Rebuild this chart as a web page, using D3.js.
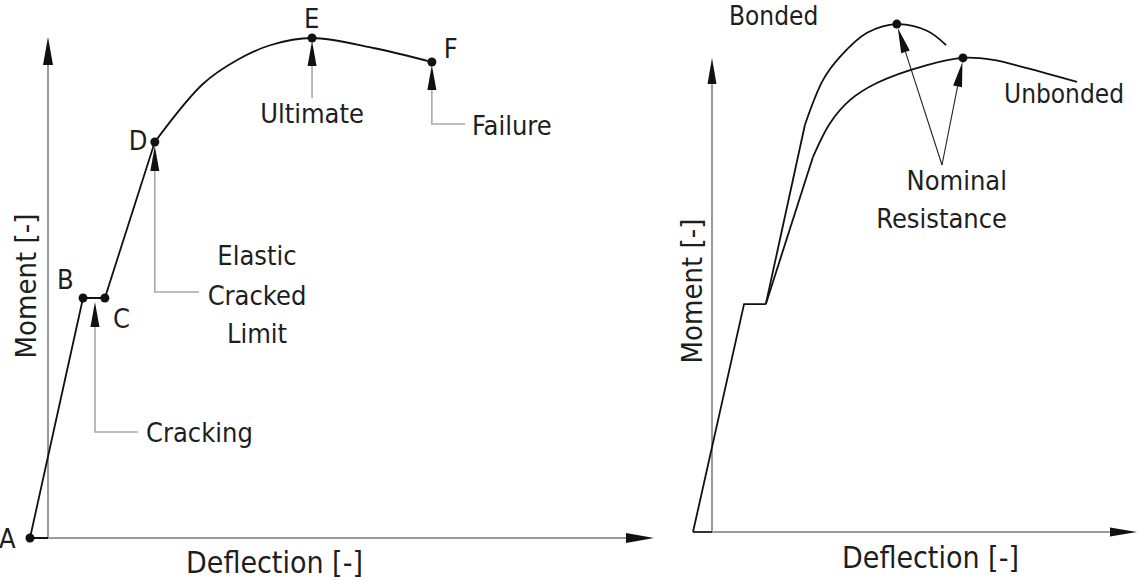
<!DOCTYPE html>
<html><head><meta charset="utf-8">
<script src="https://cdn.jsdelivr.net/npm/d3@7"></script>
<style>
html,body{margin:0;padding:0;background:#fff;}
svg text{font-family:"DejaVu Sans Condensed","DejaVu Sans",sans-serif;fill:#1e1e1e;font-stretch:condensed;}
</style></head>
<body>
<svg id="c" width="1139" height="580"></svg>
<script>
// ---------- data (arbitrary units: deflection, moment) ----------
// Left: idealised moment-deflection curve
const leftLinear = [[0,0],[8.5,48],[12.0,48],[20.0,79.2]];           // A-B-C-D
const leftCurve  = [[20.0,79.2],[27.7,90.8],[33.2,95.6],[38.6,98.6],[45.2,100],[55.0,98],[64.4,95.2]]; // D..E..F
const leftPointNames = ["A","B","C","D","E","F"];
const leftPoints = [[0,0],[8.5,48],[12.0,48],[20.0,79.2],[45.2,100],[64.4,95.2]];

// Right: bonded vs unbonded
const rightCommon    = [[0,0],[11.5,44.5],[16.4,44.5]];
const bondedLinear   = [[16.4,44.5],[25.2,79.5]];
const bondedCurve    = [[25.2,79.5],[29.3,88.3],[33.1,92.8],[39.2,97.5],[45.9,99.2],[52.7,97.9],[57.0,95.1]];
const unbondedLinear = [[16.4,44.5],[27.0,73.2]];
const unbondedCurve  = [[27.0,73.2],[30.9,79.9],[35.4,84.4],[41.4,87.7],[52.7,91.2],[60.8,92.6],[67.6,92.2],[75.2,90.6],[86.5,87.9]];
const bondedPeak   = [45.9,99.2];
const unbondedPeak = [60.8,92.6];

const axisLabelX = "Deflection";
const axisLabelY = "Moment";
const unitLabel  = "[-]";

// ---------- drawing ----------
const svg = d3.select("#c");
const GRAY = "#9a9a9a", LEAD = "#a8a8a8", INK = "#111";

function tri(g, tip, ux, uy, len, w){
  const bx = tip[0]+ux*len, by = tip[1]+uy*len;
  const px = -uy*w/2, py = ux*w/2;
  g.append("path").attr("d",`M${tip[0]},${tip[1]}L${bx+px},${by+py}L${bx-px},${by-py}Z`).attr("fill",INK);
  return [bx,by];
}
function leader(g, pts){
  g.append("path").attr("d",d3.line()(pts)).attr("fill","none").attr("stroke",LEAD).attr("stroke-width",1.6);
}

// ===== LEFT PANEL =====
const xL = d3.scaleLinear().domain([0,100]).range([30,654]);
const yL = d3.scaleLinear().domain([0,100]).range([538,38]);
const gL = svg.append("g");
const axL = 48;
gL.append("line").attr("x1",axL).attr("y1",yL(0)).attr("x2",axL).attr("y2",64).attr("stroke",GRAY).attr("stroke-width",2);
tri(gL,[axL,37],0,1,28,10);
gL.append("line").attr("x1",axL).attr("y1",yL(0)).attr("x2",628).attr("y2",yL(0)).attr("stroke",GRAY).attr("stroke-width",2);
tri(gL,[654,yL(0)],-1,0,28,10);
gL.append("line").attr("x1",xL(0)).attr("y1",yL(0)).attr("x2",axL).attr("y2",yL(0)).attr("stroke",INK).attr("stroke-width",2);

const lineL  = d3.line().x(d=>xL(d[0])).y(d=>yL(d[1]));
const curveL = d3.line().x(d=>xL(d[0])).y(d=>yL(d[1])).curve(d3.curveCatmullRom.alpha(0.5));
gL.append("path").attr("d",lineL(leftLinear)).attr("fill","none").attr("stroke",INK).attr("stroke-width",1.8);
gL.append("path").attr("d",curveL(leftCurve)).attr("fill","none").attr("stroke",INK).attr("stroke-width",1.8);

gL.selectAll("circle.p").data(leftPoints).join("circle").attr("class","p")
  .attr("cx",d=>xL(d[0])).attr("cy",d=>yL(d[1])).attr("r",4.5).attr("fill",INK);

const letterOff = {A:[-31,10],B:[-26,-9],C:[8,30],D:[-26,8],E:[-8,-10],F:[12,-4]};
gL.selectAll("text.pl").data(leftPoints).join("text").attr("class","pl")
  .attr("x",(d,i)=>xL(d[0])+letterOff[leftPointNames[i]][0])
  .attr("y",(d,i)=>yL(d[1])+letterOff[leftPointNames[i]][1])
  .attr("font-size",27).text((d,i)=>leftPointNames[i]);

// Cracking (between B and C)
{
  const cx = (xL(leftPoints[1][0])+xL(leftPoints[2][0]))/2 + 1, ty = yL(48)+4;
  const b = tri(gL,[cx,ty],0,1,25,9);
  leader(gL,[[cx,b[1]],[cx,432],[138,432]]);
  gL.append("text").attr("x",146).attr("y",442).attr("font-size",27).text("Cracking");
}
// Elastic Cracked Limit (D)
{
  const cx = xL(leftPoints[3][0]), ty = yL(leftPoints[3][1])+4;
  const b = tri(gL,[cx,ty],0,1,25,9);
  leader(gL,[[cx,b[1]],[cx,292],[199,292]]);
  const t = gL.append("text").attr("font-size",27).attr("text-anchor","middle");
  t.append("tspan").attr("x",257).attr("y",265).text("Elastic");
  t.append("tspan").attr("x",257).attr("y",305).text("Cracked");
  t.append("tspan").attr("x",257).attr("y",343).text("Limit");
}
// Ultimate (E)
{
  const cx = xL(leftPoints[4][0]), ty = yL(leftPoints[4][1])+3;
  const b = tri(gL,[cx,ty],0,1,25,9);
  leader(gL,[[cx,b[1]],[cx,98]]);
  gL.append("text").attr("x",cx).attr("y",123).attr("text-anchor","middle").attr("font-size",27).text("Ultimate");
}
// Failure (F)
{
  const cx = xL(leftPoints[5][0]), ty = yL(leftPoints[5][1])+3;
  const b = tri(gL,[cx,ty],0,1,25,9);
  leader(gL,[[cx,b[1]],[cx,124],[465,124]]);
  gL.append("text").attr("x",472).attr("y",135).attr("font-size",27).text("Failure");
}
gL.append("text").attr("x",186).attr("y",573).attr("font-size",30).text(axisLabelX+" "+unitLabel);
gL.append("text").attr("transform","translate(36,286) rotate(-90)").attr("text-anchor","middle").attr("font-size",29).text(axisLabelY+" "+unitLabel);

// ===== RIGHT PANEL =====
const xR = d3.scaleLinear().domain([0,100]).range([693,1137]);
const yR = d3.scaleLinear().domain([0,100]).range([532,20]);
const gR = svg.append("g");
const axR = 712;
gR.append("line").attr("x1",axR).attr("y1",yR(0)).attr("x2",axR).attr("y2",84).attr("stroke",GRAY).attr("stroke-width",2);
tri(gR,[axR,58],0,1,26,9);
gR.append("line").attr("x1",axR).attr("y1",yR(0)).attr("x2",1112).attr("y2",yR(0)).attr("stroke",GRAY).attr("stroke-width",2);
tri(gR,[1137,yR(0)],-1,0,27,9);
gR.append("line").attr("x1",xR(0)).attr("y1",yR(0)).attr("x2",axR).attr("y2",yR(0)).attr("stroke","#333").attr("stroke-width",2);

const lineR  = d3.line().x(d=>xR(d[0])).y(d=>yR(d[1]));
const curveR = d3.line().x(d=>xR(d[0])).y(d=>yR(d[1])).curve(d3.curveCatmullRom.alpha(0.5));
[rightCommon,bondedLinear,unbondedLinear].forEach(s=>
  gR.append("path").attr("d",lineR(s)).attr("fill","none").attr("stroke",INK).attr("stroke-width",1.8));
[bondedCurve,unbondedCurve].forEach(s=>
  gR.append("path").attr("d",curveR(s)).attr("fill","none").attr("stroke",INK).attr("stroke-width",1.8));
gR.selectAll("circle.pk").data([bondedPeak,unbondedPeak]).join("circle").attr("class","pk")
  .attr("cx",d=>xR(d[0])).attr("cy",d=>yR(d[1])).attr("r",4.5).attr("fill",INK);

// Nominal resistance leaders
{
  const J = [942,165];
  [bondedPeak,unbondedPeak].forEach(p=>{
    const tip = [xR(p[0])+ (p===bondedPeak?1:-0.5), yR(p[1])+4];
    const dx = J[0]-tip[0], dy = J[1]-tip[1], L = Math.hypot(dx,dy);
    const b = tri(gR,tip,dx/L,dy/L,25,9);
    gR.append("line").attr("x1",b[0]).attr("y1",b[1]).attr("x2",J[0]).attr("y2",J[1]).attr("stroke","#222").attr("stroke-width",1.1);
  });
  const t = gR.append("text").attr("font-size",27).attr("text-anchor","end");
  t.append("tspan").attr("x",1007).attr("y",190).text("Nominal");
  t.append("tspan").attr("x",1007).attr("y",228).text("Resistance");
}
gR.append("text").attr("x",729).attr("y",25).attr("font-size",26).text("Bonded");
gR.append("text").attr("x",1004).attr("y",103).attr("font-size",26).text("Unbonded");
gR.append("text").attr("x",842).attr("y",568).attr("font-size",30).text(axisLabelX+" "+unitLabel);
gR.append("text").attr("transform","translate(702,291) rotate(-90)").attr("text-anchor","middle").attr("font-size",29).text(axisLabelY+" "+unitLabel);
</script>
</body></html>
